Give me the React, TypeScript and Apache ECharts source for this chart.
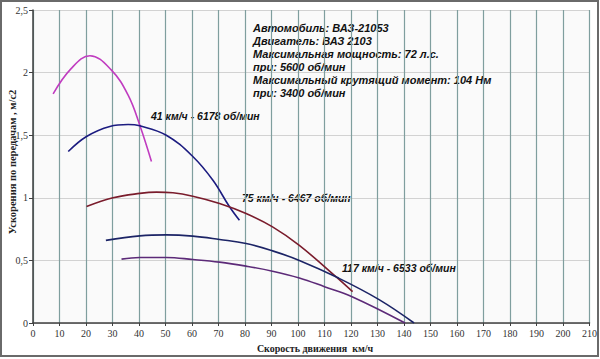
import React, { useEffect, useRef } from "react";
import * as echarts from "echarts";

const xTicks = [0, 210, 10];
const yTicks = [0, 2.5, 0.5];

const gear1: [number, number][] = [[7.6, 1.83], [14.3, 2.03], [21.5, 2.135], [29.6, 2.02], [35.9, 1.82], [40.3, 1.58], [44.7, 1.29]];
const gear2: [number, number][] = [[13.3, 1.37], [20.2, 1.49], [29, 1.57], [35.9, 1.585], [40.3, 1.575], [50.3, 1.5], [60.3, 1.33], [67.9, 1.14], [74.1, 0.93], [77.9, 0.82]];
const gear3: [number, number][] = [[20.2, 0.93], [30.2, 1.0], [40.3, 1.035], [46.6, 1.045], [52.8, 1.04], [60.3, 1.013], [70.4, 0.955], [80.4, 0.875], [90.4, 0.768], [100.5, 0.62], [114.3, 0.37], [120.6, 0.25]];
const gear4: [number, number][] = [[27.5, 0.66], [40.3, 0.696], [50.3, 0.704], [60.3, 0.694], [70.4, 0.667], [80.4, 0.635], [90.4, 0.576], [100.5, 0.5], [114.9, 0.363], [130.6, 0.187], [143.8, 0]];
const gear5: [number, number][] = [[33.4, 0.51], [40.3, 0.523], [50.3, 0.523], [60.3, 0.507], [70.4, 0.486], [80.4, 0.454], [90.4, 0.414], [100.5, 0.36], [110, 0.29], [120.6, 0.208], [140.4, 0]];

const gearColors = ["#c03cc0", "#1c1c80", "#7a1c2c", "#1c2466", "#5c2a78"];

const infoLines = [
  "Автомобиль: ВАЗ-21053",
  "Двигатель: ВАЗ 2103",
  "Максимальная мощность: 72 л.с.",
  "при: 5600 об/мин",
  "Максимальный крутящий момент: 104 Нм",
  "при: 3400 об/мин",
];

const annotations = [
  { text: "41 км/ч - 6178 об/мин", x: 151, y: 116 },
  { text: "75 км/ч - 6467 об/мин", x: 242, y: 198 },
  { text: "117 км/ч - 6533 об/мин", x: 342, y: 268 },
];

export default function App() {
  const ref = useRef<HTMLDivElement>(null);
  useEffect(() => {
    if (!ref.current) return;
    const chart = echarts.init(ref.current, null, { renderer: "svg" });
    const serif = "'Liberation Serif', 'Times New Roman', serif";
    const sans = "'Liberation Sans', Arial, sans-serif";
    const gears = [gear1, gear2, gear3, gear4, gear5];
    const graphic: any[] = [
      {
        type: "rect",
        shape: { x: 1, y: 1, width: 597, height: 355 },
        style: { fill: "none", stroke: "#6a6a6a", lineWidth: 2 },
        silent: true,
      },
      ...infoLines.map((t, i) => ({
        type: "text",
        x: 253,
        y: 28 + i * 12.9,
        style: {
          text: t,
          font: `italic bold 11px ${sans}`,
          fill: "#111",
          verticalAlign: "middle",
        },
      })),
      ...annotations.map((a) => ({
        type: "text",
        x: a.x,
        y: a.y,
        style: {
          text: a.text,
          font: `italic bold 10.5px ${sans}`,
          fill: "#111",
          verticalAlign: "middle",
        },
      })),
      {
        type: "text",
        x: 12,
        y: 162,
        rotation: Math.PI / 2,
        style: {
          text: "Ускорения по передачам , м/с2",
          font: `bold 10.5px ${serif}`,
          fill: "#222",
          align: "center",
          verticalAlign: "middle",
        },
      },
      {
        type: "text",
        x: 315,
        y: 348,
        style: {
          text: "Скорость движения  км/ч",
          font: `bold 10px ${serif}`,
          fill: "#222",
          align: "center",
          verticalAlign: "middle",
        },
      },
    ];
    chart.setOption({
      animation: false,
      backgroundColor: "#ffffff",
      grid: {
        left: 33,
        top: 10,
        right: 9,
        bottom: 36,
        show: true,
        backgroundColor: "#fafafa",
        borderWidth: 0,
      },
      xAxis: {
        type: "value",
        min: xTicks[0],
        max: xTicks[1],
        interval: xTicks[2],
        axisLine: { show: true, lineStyle: { color: "#404040", width: 1.5 } },
        axisTick: { show: true, length: 3, lineStyle: { color: "#404040" } },
        axisLabel: { fontFamily: serif, fontSize: 10, color: "#333", margin: 5 },
        splitLine: { show: true, lineStyle: { color: "#7f9e9e", width: 1.2 } },
      },
      yAxis: {
        type: "value",
        min: yTicks[0],
        max: yTicks[1],
        interval: yTicks[2],
        axisLine: { show: true, lineStyle: { color: "#404040", width: 1.5 } },
        axisTick: { show: true, length: 4, lineStyle: { color: "#404040" } },
        axisLabel: {
          fontFamily: serif,
          fontSize: 10,
          color: "#333",
          margin: 5,
          formatter: (v: number) => String(v).replace(".", ","),
        },
        splitLine: { show: true, lineStyle: { color: "#d2d2d2", width: 1 } },
      },
      series: gears.map((g, i) => ({
        type: "line",
        data: g,
        smooth: 0.4,
        showSymbol: false,
        lineStyle: { color: gearColors[i], width: 1.6 },
        itemStyle: { color: gearColors[i] },
      })),
      graphic,
    });
    return () => chart.dispose();
  }, []);
  return (
    <div
      ref={ref}
      style={{ position: "fixed", left: 0, top: 0, width: 600, height: 359 }}
    />
  );
}
